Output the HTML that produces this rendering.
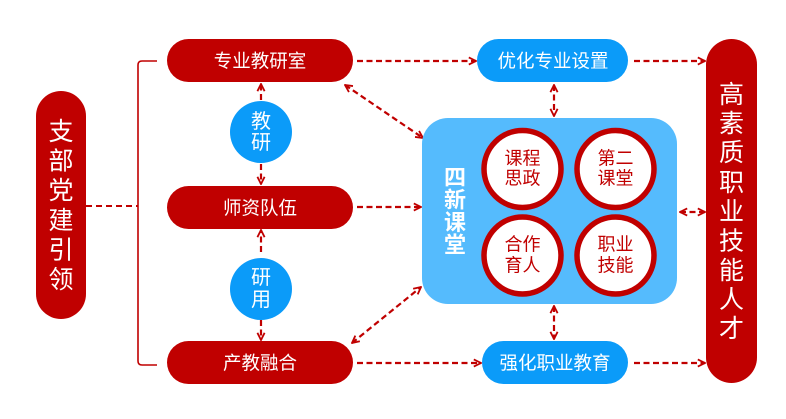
<!DOCTYPE html>
<html><head><meta charset="utf-8"><style>
html,body{margin:0;padding:0;background:#fff;}
svg{display:block;}
text{font-family:"Liberation Sans","Noto Sans CJK SC",sans-serif;}
</style></head><body>
<svg width="786" height="419" viewBox="0 0 786 419" xmlns="http://www.w3.org/2000/svg">
<defs>
<marker id="a" viewBox="0 0 10 10" refX="9" refY="5" markerWidth="9" markerHeight="9" markerUnits="userSpaceOnUse" orient="auto-start-reverse">
<path d="M1,1 L9,5 L1,9" fill="none" stroke="#c00000" stroke-width="2"/>
</marker>
</defs>

<!-- bracket -->
<path d="M157,61 L142,61 Q138,61 138,65 L138,361 Q138,365 142,365 L157,365" fill="none" stroke="#c00000" stroke-width="1.6"/>
<line x1="86" y1="206" x2="138" y2="206" stroke="#c00000" stroke-width="2" stroke-dasharray="6,4"/>

<!-- dashed connectors -->
<g stroke="#c00000" stroke-width="2.2" stroke-dasharray="6,3.5" fill="none">
<line x1="357" y1="61" x2="476" y2="61" marker-end="url(#a)"/>
<line x1="634" y1="61" x2="705" y2="61" marker-end="url(#a)"/>
<line x1="357" y1="363" x2="481" y2="363" marker-end="url(#a)"/>
<line x1="634" y1="363" x2="705" y2="363" marker-end="url(#a)"/>
<line x1="357" y1="207" x2="421" y2="207" marker-end="url(#a)"/>
<line x1="554" y1="85" x2="554" y2="116" marker-start="url(#a)" marker-end="url(#a)"/>
<line x1="554" y1="306" x2="554" y2="339" marker-start="url(#a)" marker-end="url(#a)"/>
<line x1="680" y1="212" x2="705" y2="212" marker-start="url(#a)" marker-end="url(#a)"/>
<line x1="345" y1="85" x2="423" y2="138" marker-start="url(#a)" marker-end="url(#a)"/>
<line x1="352" y1="343" x2="421" y2="287" marker-start="url(#a)" marker-end="url(#a)"/>
<line x1="261" y1="100" x2="261" y2="84" marker-end="url(#a)"/>
<line x1="261" y1="164" x2="261" y2="184" marker-end="url(#a)"/>
<line x1="261" y1="252" x2="261" y2="230" marker-end="url(#a)"/>
<line x1="261" y1="320" x2="261" y2="340" marker-end="url(#a)"/>
</g>

<!-- left pill -->
<rect x="36" y="91" width="50" height="228" rx="25" fill="#c00000"/>
<g fill="#fff" font-size="25" text-anchor="middle" dominant-baseline="central">
<text x="61" y="132">支</text>
<text x="61" y="161.6">部</text>
<text x="61" y="191.2">党</text>
<text x="61" y="220.8">建</text>
<text x="61" y="250.4">引</text>
<text x="61" y="280">领</text>
</g>

<!-- right pill -->
<rect x="706" y="39" width="51" height="344" rx="25.5" fill="#c00000"/>
<g fill="#fff" font-size="25" text-anchor="middle" dominant-baseline="central">
<text x="731.5" y="95">高</text>
<text x="731.5" y="124">素</text>
<text x="731.5" y="153">质</text>
<text x="731.5" y="183">职</text>
<text x="731.5" y="212">业</text>
<text x="731.5" y="241.5">技</text>
<text x="731.5" y="271">能</text>
<text x="731.5" y="300">人</text>
<text x="731.5" y="329">才</text>
</g>

<!-- red pills -->
<rect x="167" y="39" width="186" height="43" rx="21.5" fill="#c00000"/>
<rect x="167" y="186" width="186" height="43" rx="21.5" fill="#c00000"/>
<rect x="167" y="341" width="186" height="43" rx="21.5" fill="#c00000"/>
<g fill="#fff" font-size="18.5" text-anchor="middle" dominant-baseline="central">
<text x="260" y="61">专业教研室</text>
<text x="260" y="208">师资队伍</text>
<text x="260" y="363">产教融合</text>
</g>

<!-- blue pills -->
<rect x="477" y="39" width="151" height="43" rx="21.5" fill="#0b9bf9"/>
<rect x="482" y="341" width="146" height="43" rx="21.5" fill="#0b9bf9"/>
<g fill="#fff" font-size="18.5" text-anchor="middle" dominant-baseline="central">
<text x="553" y="61">优化专业设置</text>
<text x="555" y="363">强化职业教育</text>
</g>

<!-- blue circles -->
<circle cx="261" cy="132" r="31" fill="#0b9bf9"/>
<circle cx="261" cy="289" r="31" fill="#0b9bf9"/>
<g fill="#fff" font-size="20" text-anchor="middle" dominant-baseline="central">
<text x="261" y="122">教</text>
<text x="261" y="143">研</text>
<text x="261" y="278">研</text>
<text x="261" y="300">用</text>
</g>

<!-- big box -->
<rect x="422" y="118" width="255" height="186" rx="26" fill="#55bbfd"/>
<g fill="#fff" font-size="22" font-weight="bold" text-anchor="middle" dominant-baseline="central">
<text x="455" y="177.5">四</text>
<text x="455" y="200">新</text>
<text x="455" y="222.5">课</text>
<text x="455" y="245">堂</text>
</g>
<g fill="#fff" stroke="#c00000" stroke-width="5.5">
<circle cx="522.5" cy="169" r="38.5"/>
<circle cx="615.5" cy="169" r="38.5"/>
<circle cx="522.5" cy="255.5" r="38.5"/>
<circle cx="615.5" cy="255.5" r="38.5"/>
</g>
<g fill="#c00000" font-size="18" text-anchor="middle" dominant-baseline="central">
<text x="522.5" y="158.5">课程</text>
<text x="522.5" y="178.5">思政</text>
<text x="615.5" y="158.5">第二</text>
<text x="615.5" y="178.5">课堂</text>
<text x="522.5" y="244.5">合作</text>
<text x="522.5" y="265.5">育人</text>
<text x="615.5" y="244.5">职业</text>
<text x="615.5" y="265.5">技能</text>
</g>
</svg>
</body></html>
